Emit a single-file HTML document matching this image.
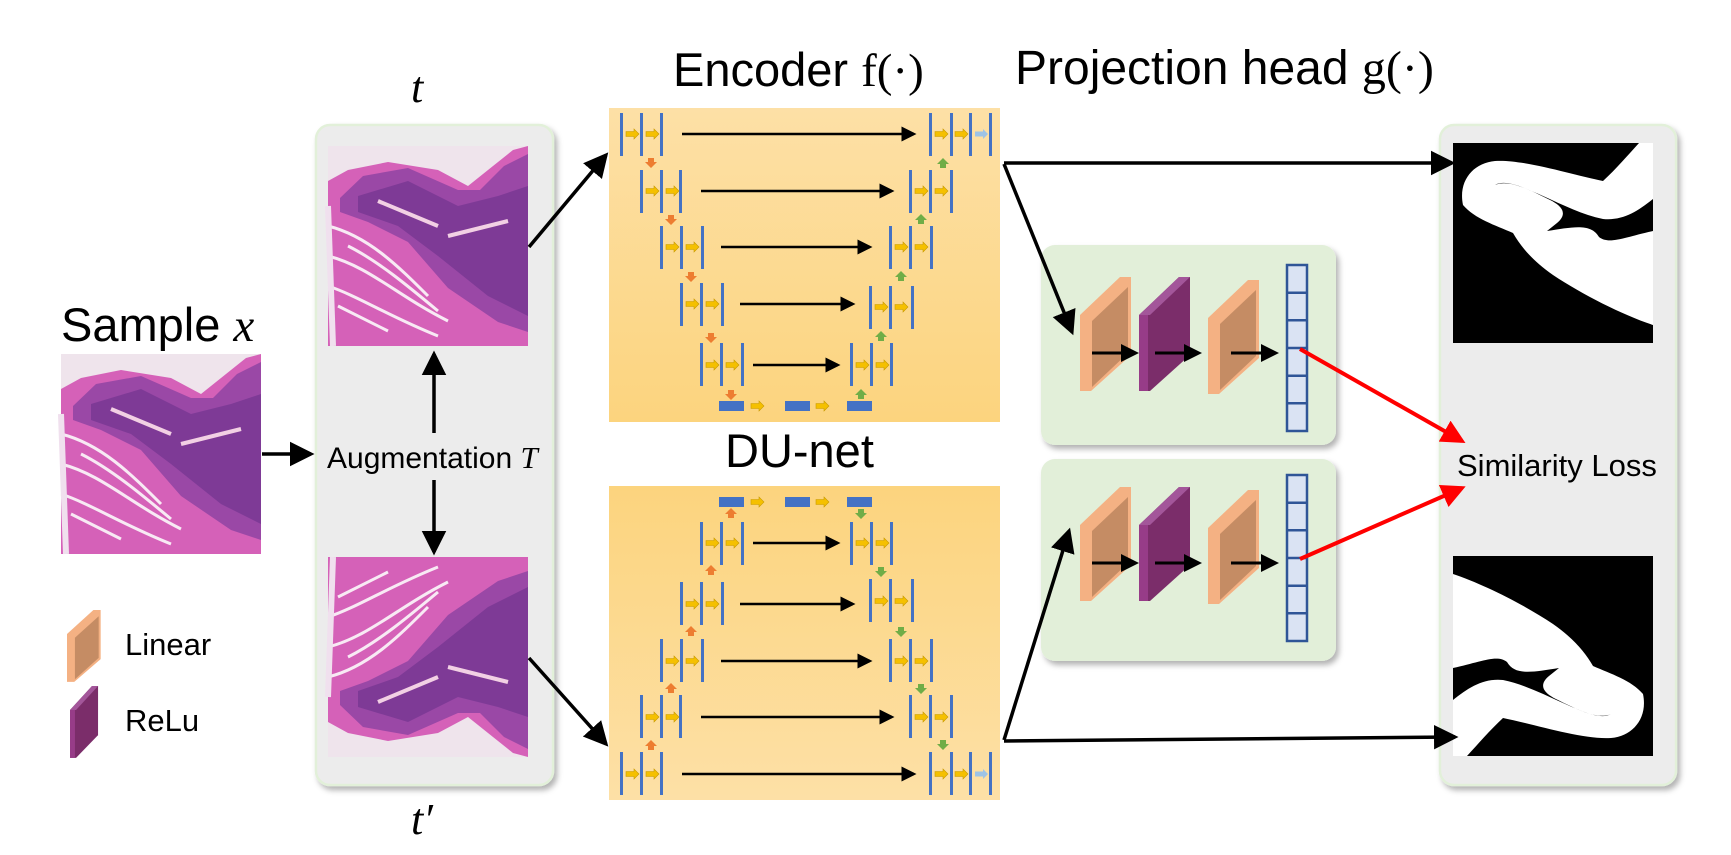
<!DOCTYPE html>
<html><head><meta charset="utf-8"><style>
html,body{margin:0;padding:0;background:#fff;}
svg{display:block;}
.s{font-family:"Liberation Sans",sans-serif;}
.m{font-family:"Liberation Serif",serif;font-style:italic;}
</style></head><body>
<svg width="1731" height="855" viewBox="0 0 1731 855" xmlns="http://www.w3.org/2000/svg">
<defs>
 <linearGradient id="ub" x1="0" y1="0" x2="0" y2="1"><stop offset="0" stop-color="#fde0a6"/><stop offset="1" stop-color="#fcd47e"/></linearGradient>
 <marker id="ah" markerWidth="8" markerHeight="8" refX="6" refY="4" orient="auto" markerUnits="strokeWidth"><path d="M0,0.5 L7,4 L0,7.5 z" fill="#000"/></marker>
 <marker id="ahs" markerWidth="6" markerHeight="6" refX="5" refY="3" orient="auto" markerUnits="strokeWidth"><path d="M0,0 L6,3 L0,6 z" fill="#000"/></marker>
 <marker id="ahr" markerWidth="6" markerHeight="6" refX="5" refY="3" orient="auto" markerUnits="strokeWidth"><path d="M0,0 L6,3 L0,6 z" fill="#f00"/></marker>
 <filter id="sh" x="-5%" y="-5%" width="115%" height="115%"><feDropShadow dx="3" dy="4" stdDeviation="3" flood-color="#000" flood-opacity="0.3"/></filter>
 <g id="histo">
  <rect width="200" height="200" fill="#efe4ec"/>
  <polygon points="0,35 20,24 60,16 110,24 140,40 165,20 185,4 200,0 200,200 0,200" fill="#d561b8"/>
  <polygon points="12,52 35,30 80,22 130,44 152,44 176,20 200,8 200,186 170,176 120,142 80,96 40,76 12,66" fill="#9a48a6"/>
  <polygon points="30,50 80,35 130,60 170,50 200,40 200,170 160,150 110,110 70,80 30,66" fill="#7e3a96"/>
  <path d="M50,55 L110,80 M120,90 L180,75" stroke="#f2d0e4" stroke-width="4"/>
  <path d="M0,80 C40,90 70,120 100,150 M0,110 C40,120 70,150 120,175 M0,140 C30,150 60,170 110,190 M10,160 L60,185 M20,100 C50,115 80,140 110,165" stroke="#f8eaf4" stroke-width="3" fill="none"/>
  <path d="M0,60 L5,200" stroke="#f0e0ee" stroke-width="6"/>
 </g>
 <g id="mask">
  <rect width="200" height="200" fill="#000"/>
  <path d="M10,62 C5,38 20,20 42,18 C70,16 120,32 150,38 C163,26 175,12 186,0 L200,0 L200,182 C170,172 130,152 100,132 C80,118 68,104 60,90 C42,82 22,76 10,62 Z" fill="#fff"/>
  <path d="M42,42 C55,36 75,46 95,56 C108,62 116,70 104,80 L94,88 C120,84 138,80 146,94 C156,102 172,94 200,88 L200,56 C185,68 170,78 150,76 C130,72 110,62 90,53 C70,44 52,36 42,42 Z" fill="#000"/>
 </g>
 <g id="lin">
  <polygon points="0,38 40,0 51,0 51,78 11,114 0,114" fill="#f4b183"/>
  <polygon points="12,44 48,10 48,76 12,110" fill="#c58c64"/>
 </g>
 <g id="relu">
  <polygon points="0,38 40,0 51,0 51,78 11,114 0,114" fill="#7b2d6a"/>
  <polygon points="0,38 40,0 51,0 11,38" fill="#a3569a"/>
  <rect x="0" y="38" width="9" height="76" fill="#973c88"/>
 </g>
 <g id="proj">
  <use href="#lin" x="1080" y="277"/>
  <use href="#relu" x="1139" y="277"/>
  <use href="#lin" x="1208" y="280"/>
  <rect x="1287" y="265" width="20" height="166" fill="#dae3f3" stroke="#2f5597" stroke-width="2.5"/>
  <path d="M1287,292.7H1307M1287,320.3H1307M1287,348H1307M1287,375.7H1307M1287,403.3H1307" stroke="#2f5597" stroke-width="2.5"/>
  <g stroke="#000" stroke-width="3" marker-end="url(#ahs)">
   <line x1="1092" y1="353" x2="1136" y2="353"/>
   <line x1="1155" y1="353" x2="1199" y2="353"/>
   <line x1="1231" y1="353" x2="1276" y2="353"/>
  </g>
 </g>
 <g id="yar"><path d="M0,-2.5H8V-5L13,0L8,5V2.5H0Z" fill="#f5c000" stroke="#c89a00" stroke-width="0.6"/></g>
 <g id="unet">
  <rect x="609" y="108" width="391" height="314" fill="url(#ub)"/>
  <g fill="#4472c4">
   <rect x="620" y="113" width="3" height="43"/><rect x="640" y="113" width="3" height="43"/><rect x="660" y="113" width="3" height="43"/>
   <rect x="929" y="113" width="3" height="43"/><rect x="950" y="113" width="3" height="43"/><rect x="969" y="113" width="3" height="43"/><rect x="989" y="113" width="3" height="43"/>
   <rect x="640" y="170" width="3" height="43"/><rect x="660" y="170" width="3" height="43"/><rect x="679" y="170" width="3" height="43"/>
   <rect x="909" y="170" width="3" height="43"/><rect x="929" y="170" width="3" height="43"/><rect x="950" y="170" width="3" height="43"/>
   <rect x="660" y="226" width="3" height="43"/><rect x="680" y="226" width="3" height="43"/><rect x="701" y="226" width="3" height="43"/>
   <rect x="889" y="226" width="3" height="43"/><rect x="909" y="226" width="3" height="43"/><rect x="930" y="226" width="3" height="43"/>
   <rect x="680" y="283" width="3" height="43"/><rect x="700" y="283" width="3" height="43"/><rect x="721" y="283" width="3" height="43"/>
   <rect x="869" y="286" width="3" height="43"/><rect x="889" y="286" width="3" height="43"/><rect x="911" y="286" width="3" height="43"/>
   <rect x="700" y="343" width="3" height="43"/><rect x="720" y="343" width="3" height="43"/><rect x="741" y="343" width="3" height="43"/>
   <rect x="850" y="343" width="3" height="43"/><rect x="870" y="343" width="3" height="43"/><rect x="890" y="343" width="3" height="43"/>
   <rect x="719" y="401" width="25" height="10"/><rect x="785" y="401" width="25" height="10"/><rect x="847" y="401" width="25" height="10"/>
  </g>
  <g stroke="#000" stroke-width="2.5" marker-end="url(#ahs)">
   <line x1="682" y1="134" x2="914" y2="134"/>
   <line x1="701" y1="191" x2="892" y2="191"/>
   <line x1="721" y1="247" x2="870" y2="247"/>
   <line x1="740" y1="304" x2="853" y2="304"/>
   <line x1="753" y1="365" x2="838" y2="365"/>
  </g>
  <use href="#yar" x="626" y="134"/><use href="#yar" x="646" y="134"/>
  <use href="#yar" x="935" y="134"/><use href="#yar" x="955" y="134"/>
  <path d="M975,131.5H983V129L988,134L983,139V136.5H975Z" fill="#9dc3e6"/>
  <use href="#yar" x="646" y="191"/><use href="#yar" x="666" y="191"/>
  <use href="#yar" x="915" y="191"/><use href="#yar" x="935" y="191"/>
  <use href="#yar" x="666" y="247"/><use href="#yar" x="686" y="247"/>
  <use href="#yar" x="895" y="247"/><use href="#yar" x="915" y="247"/>
  <use href="#yar" x="686" y="304"/><use href="#yar" x="706" y="304"/>
  <use href="#yar" x="875" y="307"/><use href="#yar" x="895" y="307"/>
  <use href="#yar" x="706" y="365"/><use href="#yar" x="726" y="365"/>
  <use href="#yar" x="856" y="365"/><use href="#yar" x="876" y="365"/>
  <use href="#yar" x="751" y="406"/><use href="#yar" x="816" y="406"/>
  <g fill="#ed7d31">
   <path d="M648,158h6v4h3l-6,6l-6,-6h3z"/>
   <path d="M668,215h6v4h3l-6,6l-6,-6h3z"/>
   <path d="M688,272h6v4h3l-6,6l-6,-6h3z"/>
   <path d="M708,333h6v4h3l-6,6l-6,-6h3z"/>
   <path d="M728,390h6v4h3l-6,6l-6,-6h3z"/>
  </g>
  <g fill="#70ad47">
   <path d="M940,168h6v-4h3l-6,-6l-6,6h3z"/>
   <path d="M918,224h6v-4h3l-6,-6l-6,6h3z"/>
   <path d="M898,281h6v-4h3l-6,-6l-6,6h3z"/>
   <path d="M878,341h6v-4h3l-6,-6l-6,6h3z"/>
   <path d="M858,399h6v-4h3l-6,-6l-6,6h3z"/>
  </g>
 </g>
</defs>

<!-- titles -->
<text x="673" y="86" class="s" font-size="47">Encoder <tspan font-family="Liberation Serif">f(·)</tspan></text>
<text x="1015" y="84" class="s" font-size="48">Projection head <tspan font-family="Liberation Serif">g(·)</tspan></text>
<text x="725" y="467" class="s" font-size="47">DU-net</text>
<text x="411" y="102" class="m" font-size="44">t</text>
<text x="411" y="834" class="m" font-size="44">t′</text>
<text x="61" y="341" class="s" font-size="47">Sample <tspan class="m">x</tspan></text>

<!-- sample -->
<use href="#histo" transform="translate(61,354)"/>

<!-- augmentation panel -->
<rect x="316" y="125" width="237" height="660" rx="14" fill="#ececec" stroke="#e2f0d9" stroke-width="2.5" filter="url(#sh)"/>
<use href="#histo" transform="translate(328,146)"/>
<use href="#histo" transform="translate(328,757) scale(1,-1)"/>
<text x="327" y="468" class="s" font-size="30">Augmentation <tspan class="m" font-size="31">T</tspan></text>
<g stroke="#000" stroke-width="3.5" marker-end="url(#ah)">
 <line x1="434" y1="433" x2="434" y2="354"/>
 <line x1="434" y1="480" x2="434" y2="552"/>
 <line x1="262" y1="454" x2="311" y2="454"/>
</g>

<!-- unets -->
<use href="#unet"/>
<use href="#unet" transform="translate(0,908) scale(1,-1)"/>

<!-- projection boxes -->
<rect x="1041" y="245" width="295" height="200" rx="14" fill="#e2efd9" filter="url(#sh)"/>
<rect x="1041" y="459" width="295" height="202" rx="14" fill="#e2efd9" filter="url(#sh)"/>
<use href="#proj"/>
<use href="#proj" transform="translate(0,210)"/>

<!-- right panel -->
<rect x="1440" y="125" width="236" height="660" rx="14" fill="#ececec" stroke="#e2f0d9" stroke-width="2.5" filter="url(#sh)"/>
<use href="#mask" transform="translate(1453,143)"/>
<use href="#mask" transform="translate(1653,756) rotate(180)"/>
<text x="1457" y="476" class="s" font-size="31">Similarity Loss</text>

<!-- connectors -->
<g stroke="#000" stroke-width="3.5" marker-end="url(#ah)" fill="none">
 <line x1="529" y1="247" x2="606" y2="155"/>
 <line x1="529" y1="658" x2="606" y2="744"/>
 <line x1="1004" y1="164" x2="1072" y2="332"/>
 <line x1="1004" y1="163" x2="1452" y2="163"/>
 <line x1="1004" y1="740" x2="1069" y2="531"/>
 <line x1="1004" y1="741" x2="1455" y2="737"/>
</g>
<g stroke="#f00" stroke-width="4" marker-end="url(#ahr)">
 <line x1="1300" y1="349" x2="1462" y2="441"/>
 <line x1="1300" y1="559" x2="1462" y2="488"/>
</g>

<!-- legend -->
<g transform="translate(67,610) scale(0.66,0.63)">
 <polygon points="0,38 40,0 51,0 51,78 11,114 0,114" fill="#f4b183"/>
 <polygon points="12,44 48,10 48,76 12,110" fill="#c58c64"/>
</g>
<g transform="translate(70,686) scale(0.55,0.63)"><use href="#relu"/></g>
<text x="125" y="655" class="s" font-size="31">Linear</text>
<text x="125" y="731" class="s" font-size="31">ReLu</text>
</svg>
</body></html>
